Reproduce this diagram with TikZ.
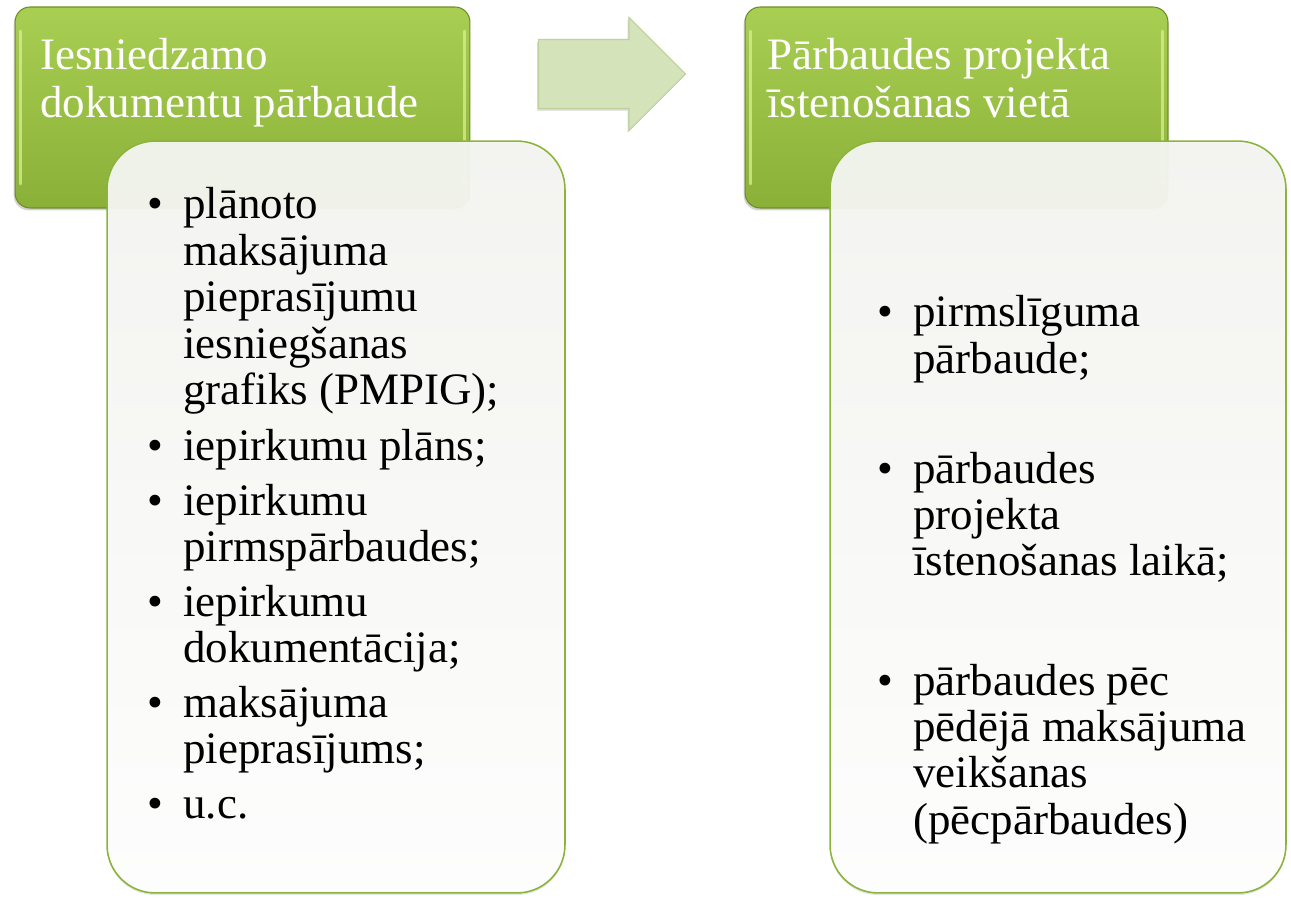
\documentclass[tikz,border=0pt]{standalone}
\usepackage{fontspec}
\setmainfont{Liberation Serif}
\usetikzlibrary{shapes.arrows,shadows}

\definecolor{hdrtop}{RGB}{168,206,82}
\definecolor{hdrbot}{RGB}{138,176,56}
\definecolor{hdredge}{RGB}{110,140,44}
\definecolor{hdrglow}{RGB}{216,240,142}
\definecolor{boxedge}{RGB}{140,180,60}
\definecolor{boxtop}{RGB}{245,246,241}
\definecolor{arrfill}{RGB}{212,227,186}
\definecolor{arredge}{RGB}{190,210,158}

\begin{document}
\begin{tikzpicture}[x=0.02cm, y=-0.02cm,
  hdr/.style={rectangle, rounded corners=0.3cm, draw=hdredge, line width=0.6pt,
    top color=hdrtop, bottom color=hdrbot, minimum height=4.02cm,
    drop shadow={shadow xshift=-0.8pt, shadow yshift=-1.4pt, opacity=0.35}},
  glow/.style={hdrglow, line width=1.8pt, opacity=0.75, line cap=round},
  hdrtxt/.style={anchor=base west, inner sep=0pt, text width=9cm, align=flush left,
    text=white, font=\fontsize{25.6pt}{26.8pt}\selectfont},
  lst/.style={rectangle, rounded corners=0.96cm, draw=boxedge, line width=0.9pt,
    top color=boxtop, bottom color=white, fill opacity=0.95, minimum height=15.04cm,
    drop shadow={shadow xshift=0pt, shadow yshift=-1.2pt, opacity=0.2}},
  item/.style={anchor=base west, inner sep=0pt, text width=8cm, align=flush left,
    font=\fontsize{25.6pt}{26.46pt}\selectfont},
  bul/.style={anchor=base west, inner sep=0pt, font=\fontsize{25.6pt}{26.46pt}\selectfont},
  bigarrow/.style={single arrow, single arrow head extend=0.44cm,
    minimum height=2.94cm, inner xsep=0pt, inner ysep=0.68cm,
    fill=arrfill, draw=arredge, line width=0.6pt, anchor=west,
    drop shadow={shadow xshift=-0.8pt, shadow yshift=-1.2pt, opacity=0.3}}
]
\useasboundingbox (0,0) rectangle (1291,898);

% green headers
\foreach \nm/\cx/\w in {hdrL/242.5/9.1cm, hdrR/956.5/8.46cm} {
  \node[hdr, minimum width=\w] (\nm) at (\cx,107.5) {};
  \draw[glow] ([xshift=3.5pt,yshift=-14pt]\nm.north west)
    -- ([xshift=3.5pt,yshift=14pt]\nm.south west);
  \draw[glow] ([xshift=-3.5pt,yshift=-14pt]\nm.north east)
    -- ([xshift=-3.5pt,yshift=14pt]\nm.south east);
}

\node[bigarrow] (arr) at (538,74) {};

% white list boxes
\node[lst, minimum width=9.16cm] (lstL) at (336,517) {};
\node[lst, minimum width=9.12cm] (lstR) at (1058,517) {};

\node[hdrtxt] (tL) at (40,70) {Iesniedzamo\\dokumentu pārbaude};
\node[hdrtxt] (tR) at (767,70) {Pārbaudes projekta\\īstenošanas vietā};

\foreach \yb/\txt [count=\k] in {219/{plānoto\\maksājuma\\pieprasījumu\\iesniegšanas\\grafiks (PMPIG);},
    460/{iepirkumu plāns;}, 515/{iepirkumu\\pirmspārbaudes;},
    616/{iepirkumu\\dokumentācija;}, 717/{maksājuma\\pieprasījums;}, 818/{u.c.}} {
  \node[bul] (bL\k) at (147,\yb) {\textbullet};
  \node[item] (iL\k) at (183,\yb) {\txt};
}

\foreach \yb/\txt [count=\k] in {327/{pirmslīguma\\pārbaude;},
    483/{pārbaudes\\projekta\\īstenošanas laikā;},
    695/{pārbaudes pēc\\pēdējā maksājuma\\veikšanas\\(pēcpārbaudes)}} {
  \node[bul] (bR\k) at (877,\yb) {\textbullet};
  \node[item] (iR\k) at (913,\yb) {\txt};
}

\end{tikzpicture}
\end{document}
